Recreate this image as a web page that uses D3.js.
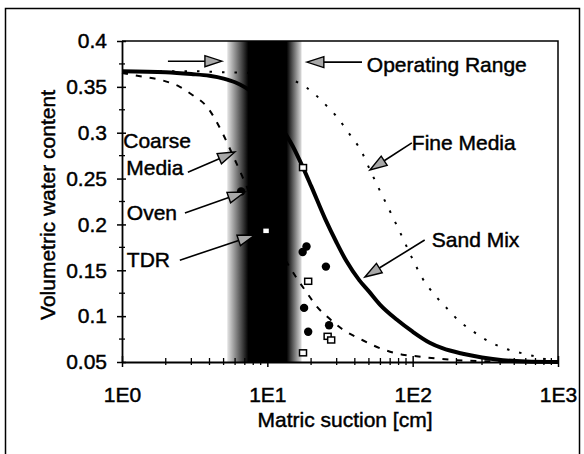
<!DOCTYPE html>
<html lang="en">
<head>
<meta charset="utf-8">
<title>Water retention curves</title>
<script src="https://d3js.org/d3.v7.min.js"></script>
<style>
  body { margin: 0; background: #fff; }
  text { font-family: "Liberation Sans", Arial, sans-serif; font-size: 21px; fill: #000;
         stroke: #000; stroke-width: 0.45px; }
</style>
</head>
<body>
<svg id="chart" width="584" height="454"></svg>
<script>
// ---- data: [suction cm, volumetric water content]
const sandMix = [[1,0.367],[2,0.366],[3,0.364],[4,0.362],[5,0.359],[6,0.355],[8,0.343],[10,0.327],[12,0.31],
  [15,0.285],[17.6,0.262],[20,0.242],[25,0.206],[30,0.18],[35,0.16],[43,0.139],[50,0.127],[60,0.112],
  [78,0.096],[100,0.083],[131,0.071],[160,0.065],[221,0.059],[300,0.055],[417,0.052],[600,0.0505],[1000,0.05]];
const coarseMedia = [[1,0.365],[1.4,0.361],[1.9,0.357],[2.5,0.35],[3,0.342],[3.9,0.327],[4.9,0.3],[6,0.27],
  [8,0.226],[10,0.196],[13,0.164],[16,0.141],[19,0.124],[22,0.11],[26,0.099],[32,0.087],[45,0.074],
  [62,0.064],[85,0.058],[103,0.0565],[142,0.054],[200,0.052],[300,0.051],[1000,0.05]];
const fineMedia = [[1,0.367],[3,0.367],[5,0.366],[8,0.365],[11,0.363],[14,0.359],[18.7,0.349],[25.7,0.329],
  [30.6,0.316],[35.8,0.301],[44.6,0.279],[51,0.259],[59,0.238],[72,0.21],[81,0.193],[100,0.162],[117,0.141],
  [142,0.123],[171,0.109],[208,0.095],[268,0.082],[313,0.075],[410,0.066],[519,0.061],[620,0.058],
  [720,0.0555],[877,0.052],[1000,0.051]];
const ovenPoints = [[6.6,0.236],[18.6,0.176],[17.5,0.17],[25.3,0.154],[17.9,0.109],[26.6,0.09],[19.1,0.083]];
const tdrPoints = [[9.8,0.193],[17.6,0.262],[19.1,0.138],[26,0.078],[27.5,0.074],[17.6,0.06]];
const operatingRange = [5.3, 17.2];
const operatingCore = [7.4, 13.6];
const xTicks = [1, 10, 100, 1000];
const xTickLabels = ["1E0", "1E1", "1E2", "1E3"];
const yTicks = [0.05, 0.1, 0.15, 0.2, 0.25, 0.3, 0.35, 0.4];
const yTickLabels = ["0.05", "0.1", "0.15", "0.2", "0.25", "0.3", "0.35", "0.4"];

const svg = d3.select("#chart");
const margin = { top: 41, right: 26, bottom: 92, left: 122 };
const W = 584, H = 454;

const x = d3.scaleLog().domain([1, 1000]).range([margin.left, W - margin.right]);
const y = d3.scaleLinear().domain([0.05, 0.4]).range([H - margin.bottom, margin.top]);

// outer frame
svg.append("rect").attr("x", 5.5).attr("y", 8.5).attr("width", 574).attr("height", 452)
  .attr("fill", "none").attr("stroke", "#000").attr("stroke-width", 1.5);

// operating range band
const grad = svg.append("defs").append("linearGradient").attr("id", "band")
  .attr("gradientUnits", "userSpaceOnUse")
  .attr("x1", x(operatingRange[0])).attr("x2", x(operatingRange[1])).attr("y1", 0).attr("y2", 0);
const span = x(operatingRange[1]) - x(operatingRange[0]);
grad.append("stop").attr("offset", 0).attr("stop-color", "#e4e4e4");
grad.append("stop").attr("offset", (x(operatingCore[0]) - x(operatingRange[0])) / span).attr("stop-color", "#000");
grad.append("stop").attr("offset", (x(operatingCore[1]) - x(operatingRange[0])) / span).attr("stop-color", "#000");
grad.append("stop").attr("offset", 1).attr("stop-color", "#dcdcdc");
svg.append("rect").attr("x", x(operatingRange[0])).attr("y", y(0.4))
  .attr("width", span).attr("height", y(0.05) - y(0.4)).attr("fill", "url(#band)");

// curves
const line = d3.line().x(d => x(d[0])).y(d => y(d[1])).curve(d3.curveMonotoneX);
svg.append("path").datum(coarseMedia).attr("d", line).attr("fill", "none")
  .attr("stroke", "#000").attr("stroke-width", 2).attr("stroke-dasharray", "6,8");
svg.append("path").datum(fineMedia).attr("d", line).attr("fill", "none")
  .attr("stroke", "#000").attr("stroke-width", 2).attr("stroke-dasharray", "2.5,10");
svg.append("path").datum(sandMix).attr("d", line).attr("fill", "none")
  .attr("stroke", "#000").attr("stroke-width", 4);

// measured points
svg.append("g").selectAll("circle").data(ovenPoints).join("circle")
  .attr("cx", d => x(d[0])).attr("cy", d => y(d[1])).attr("r", 4.2).attr("fill", "#000");
svg.append("g").selectAll("rect").data(tdrPoints).join("rect")
  .attr("x", d => x(d[0]) - 3.5).attr("y", d => y(d[1]) - 3).attr("width", 7).attr("height", 6)
  .attr("fill", "#fff").attr("stroke", "#000").attr("stroke-width", 1.5);

// plot frame top/right
svg.append("path")
  .attr("d", `M${x(1)},${y(0.4)}H${x(1000)}V${y(0.05)}`)
  .attr("fill", "none").attr("stroke", "#000").attr("stroke-width", 1.5);

// axes
const minorX = [];
[1, 10, 100].forEach(dec => { for (let k = 2; k <= 9; k++) minorX.push(dec * k); });
const minorY = d3.range(0.075, 0.4, 0.05);

const gx = svg.append("g").attr("transform", `translate(0,${y(0.05)})`)
  .call(d3.axisBottom(x).tickValues(xTicks).tickFormat((d, i) => xTickLabels[i])
    .tickSizeInner(5).tickSizeOuter(0).tickPadding(20));
gx.selectAll(".tick line").attr("y1", -6).attr("stroke-width", 1.5);
gx.select(".domain").attr("stroke-width", 2);
gx.selectAll(".minor").data(minorX).join("line").attr("class", "minor")
  .attr("x1", d => x(d)).attr("x2", d => x(d)).attr("y1", -4).attr("y2", 3)
  .attr("stroke", "#000").attr("stroke-width", 1.3);

const gy = svg.append("g").attr("transform", `translate(${x(1)},0)`)
  .call(d3.axisLeft(y).tickValues(yTicks).tickFormat((d, i) => yTickLabels[i])
    .tickSizeInner(5).tickSizeOuter(0).tickPadding(10));
gy.selectAll(".tick line").attr("x1", 4).attr("stroke-width", 1.5);
gy.select(".domain").attr("stroke-width", 1.8);
gy.selectAll(".minor").data(minorY).join("line").attr("class", "minor")
  .attr("y1", d => y(d)).attr("y2", d => y(d)).attr("x1", -3).attr("x2", 3)
  .attr("stroke", "#000").attr("stroke-width", 1.3);
svg.selectAll(".tick text").attr("font-family", null).attr("font-size", null).attr("fill", null);

// axis titles
svg.append("text").attr("x", 345).attr("y", 427).attr("text-anchor", "middle").text("Matric suction [cm]");
svg.append("text").attr("transform", "translate(55,205) rotate(-90)").attr("text-anchor", "middle")
  .text("Volumetric water content");

// annotations (positions in data units)
const arrows = [
  { from: [2.07, 0.378], to: [4.87, 0.378] },
  { from: [44.8, 0.377], to: [18.7, 0.377] },
  { from: [2.84, 0.257], to: [5.98, 0.279] },
  { from: [2.71, 0.2125], to: [7.0, 0.2354] },
  { from: [2.5, 0.161], to: [8.2, 0.1885] },
  { from: [98.7, 0.289], to: [50.8, 0.2594] },
  { from: [121, 0.183], to: [46.9, 0.1427] }
];
const labels = [
  { text: "Operating Range", at: [48.4, 0.366] },
  { text: "Coarse", at: [1.02, 0.283] },
  { text: "Media", at: [1.07, 0.254] },
  { text: "Oven", at: [1.08, 0.205] },
  { text: "TDR", at: [1.08, 0.1536] },
  { text: "Fine Media", at: [98.7, 0.281] },
  { text: "Sand Mix", at: [135.5, 0.1754] }
];
const ga = svg.append("g");
arrows.forEach(a => {
  const x0 = x(a.from[0]), y0 = y(a.from[1]), x1 = x(a.to[0]), y1 = y(a.to[1]);
  const ang = Math.atan2(y1 - y0, x1 - x0);
  const len = 17, half = 5.5;
  const bx = x1 - len * Math.cos(ang), by = y1 - len * Math.sin(ang);
  ga.append("line").attr("x1", x0).attr("y1", y0).attr("x2", bx).attr("y2", by)
    .attr("stroke", "#000").attr("stroke-width", 1.6);
  const px = -Math.sin(ang) * half, py = Math.cos(ang) * half;
  ga.append("path")
    .attr("d", `M${x1},${y1}L${bx + px},${by + py}L${bx - px},${by - py}Z`)
    .attr("fill", "#a8a8a8").attr("stroke", "#000").attr("stroke-width", 1.4);
});
labels.forEach(l => {
  ga.append("text").attr("x", x(l.at[0])).attr("y", y(l.at[1])).text(l.text);
});
</script>
</body>
</html>
